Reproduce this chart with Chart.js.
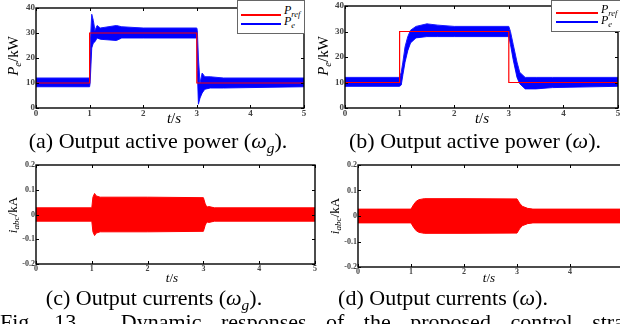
<!DOCTYPE html>
<html lang="en">
<head>
<meta charset="UTF-8" />
<title>Fig. 13 dynamic responses</title>
<script src="https://cdn.jsdelivr.net/npm/chart.js"></script>
<style>
  html, body { margin: 0; padding: 0; background: #fff; }
  body { width: 620px; height: 324px; overflow: hidden; position: relative;
         font-family: "Liberation Serif", "DejaVu Serif", serif; color: #000; }
  canvas { position: absolute; }
  .t { position: absolute; white-space: nowrap; line-height: 1; }
  .rot { transform: translate(-50%, -50%) rotate(-90deg); }
  .ctr { transform: translate(-50%, -50%); }
  .cap { position: absolute; font-size: 22px; line-height: 1; white-space: nowrap; transform: translateX(-50%); }
  .legend { position: absolute; background: #fff; border: 1px solid #666; }
  .legend .ln { position: absolute; height: 2px; }
  .legend .lt { position: absolute; font-size: 12px; font-style: italic; line-height: 1; }
  sub { font-size: 70%; vertical-align: -0.3em; line-height: 0; }
</style>
</head>
<body>
  <canvas id="chartA" width="310" height="128" style="left:0;top:0"></canvas>
  <canvas id="chartB" width="310" height="128" style="left:310px;top:0"></canvas>
  <canvas id="chartC" width="320" height="136" style="left:0;top:150px"></canvas>
  <canvas id="chartD" width="330" height="136" style="left:310px;top:150px"></canvas>

  <!-- axis titles -->
  <div class="t rot" style="left:13px;top:56px;font-size:15px"><i>P<sub>e</sub></i>/kW</div>
  <div class="t ctr" style="left:174px;top:118px;font-size:15px"><i>t</i>/<i>s</i></div>
  <div class="t rot" style="left:323px;top:56px;font-size:15px"><i>P<sub>e</sub></i>/kW</div>
  <div class="t ctr" style="left:482px;top:118px;font-size:15px"><i>t</i>/<i>s</i></div>
  <div class="t rot" style="left:12px;top:215px;font-size:13px"><i>i<sub>abc</sub></i>/kA</div>
  <div class="t ctr" style="left:172px;top:277px;font-size:13px"><i>t</i>/<i>s</i></div>
  <div class="t rot" style="left:334px;top:216px;font-size:13px"><i>i<sub>abc</sub></i>/kA</div>
  <div class="t ctr" style="left:489px;top:277px;font-size:13px"><i>t</i>/<i>s</i></div>

  <!-- legends -->
  <div class="legend" style="left:237px;top:0;width:66px;height:32px">
    <div class="ln" style="left:3px;top:13px;width:40px;background:#f00"></div>
    <div class="ln" style="left:3px;top:22px;width:40px;background:#00f"></div>
    <div class="lt" style="left:46px;top:3px">P<sub>ref</sub></div>
    <div class="lt" style="left:46px;top:14px">P<sub>e</sub></div>
  </div>
  <div class="legend" style="left:551px;top:0;width:72px;height:30px">
    <div class="ln" style="left:4px;top:11px;width:42px;background:#f00"></div>
    <div class="ln" style="left:4px;top:20px;width:42px;background:#00f"></div>
    <div class="lt" style="left:49px;top:2px">P<sub>ref</sub></div>
    <div class="lt" style="left:49px;top:13px">P<sub>e</sub></div>
  </div>

  <!-- captions -->
  <div class="cap" style="left:158px;top:130px">(a) Output active power (<i>ω<sub>g</sub></i>).</div>
  <div class="cap" style="left:475px;top:130px">(b) Output active power (<i>ω</i>).</div>
  <div class="cap" style="left:154px;top:287px">(c) Output currents (<i>ω<sub>g</sub></i>).</div>
  <div class="cap" style="left:443px;top:287px">(d) Output currents (<i>ω</i>).</div>
  <div class="cap" style="left:0;top:311px;transform:none;word-spacing:14px">Fig. 13.&nbsp; Dynamic responses of the proposed control strategy.</div>

<script>
// ---------------- data ----------------
// reference power step (kW)
const refT = [0, 1, 1, 3, 3, 5];
const refP = [10, 10, 30, 30, 10, 10];

// (a) P_e envelope of the blue band, omega_g control
const aT   = [0, 1.0, 1.01, 1.04, 1.07, 1.10, 1.14, 1.2, 1.5, 1.6, 2.0, 2.5, 3.0, 3.01, 3.03, 3.06, 3.1, 3.15, 3.25, 3.5, 5];
const aUp  = [12, 12, 25, 37.5, 35, 31, 33, 32, 33, 32.5, 32, 32, 32, 31, 20, 10, 14, 12.5, 12.5, 12, 12];
const aLow = [8.5, 8.5, 10, 24, 26, 26.5, 28, 27.5, 27, 28, 28, 28, 28, 15, 1.5, 4, 6, 7.5, 8, 8, 8.5];

// (b) P_e envelope, omega control
const bT   = [0, 1.0, 1.03, 1.06, 1.1, 1.15, 1.2, 1.3, 1.5, 1.7, 2.0, 3.0, 3.03, 3.08, 3.15, 3.2, 3.3, 3.5, 3.8, 5];
const bUp  = [12, 12, 14, 18, 24, 28, 30.5, 32, 33, 32.5, 32, 32, 30, 25, 18, 14, 12, 12, 12, 12];
const bLow = [8.5, 8.5, 9, 13, 18, 22.5, 25.5, 27.5, 28, 28, 28, 28, 25, 19, 12, 9.5, 7.5, 7.5, 8, 8.5];

// (c) current envelope (kA), omega_g control
const cT   = [0, 1.0, 1.02, 1.05, 1.08, 1.15, 2.0, 3.0, 3.03, 3.06, 3.1, 3.2, 5];
const cAmp = [0.027, 0.027, 0.07, 0.085, 0.075, 0.07, 0.07, 0.068, 0.045, 0.03, 0.032, 0.027, 0.027];

// (d) current envelope (kA), omega control
const dT   = [0, 1.0, 1.05, 1.1, 1.15, 1.25, 2.0, 3.0, 3.05, 3.1, 3.2, 3.3, 5];
const dAmp = [0.027, 0.027, 0.045, 0.058, 0.064, 0.068, 0.068, 0.067, 0.05, 0.038, 0.03, 0.027, 0.027];

const tTicks = [0, 1, 2, 3, 4, 5];
const pTicks = [0, 10, 20, 30, 40];
const iTicks = [-0.2, -0.1, 0, 0.1, 0.2];

// ---------------- helpers ----------------
const pts = (xs, ys) => xs.map((x, i) => ({ x: x, y: ys[i] }));

// MATLAB-like box with inward ticks and labels
const framePlugin = {
  id: 'frame',
  afterDraw(chart, args, opts) {
    const { ctx, chartArea: a, scales } = chart;
    const xs = scales.x, ys = scales.y;
    ctx.save();
    ctx.strokeStyle = '#000';
    ctx.lineWidth = 1.4;
    ctx.strokeRect(a.left, a.top, a.right - a.left, a.bottom - a.top);
    ctx.lineWidth = 1;
    ctx.fillStyle = '#444';
    ctx.font = opts.font;
    ctx.beginPath();
    opts.xTicks.forEach(v => {
      const px = Math.round(xs.getPixelForValue(v)) + 0.5;
      ctx.moveTo(px, a.bottom); ctx.lineTo(px, a.bottom - 3);
      ctx.moveTo(px, a.top); ctx.lineTo(px, a.top + 3);
    });
    opts.yTicks.forEach(v => {
      const py = Math.round(ys.getPixelForValue(v)) + 0.5;
      ctx.moveTo(a.left, py); ctx.lineTo(a.left + 3, py);
      ctx.moveTo(a.right, py); ctx.lineTo(a.right - 3, py);
    });
    ctx.stroke();
    ctx.textAlign = 'center';
    ctx.textBaseline = 'top';
    opts.xTicks.forEach(v => {
      const px = xs.getPixelForValue(v);
      if (px <= chart.width) ctx.fillText(String(v), px, a.bottom + 1);
    });
    ctx.textAlign = 'right';
    ctx.textBaseline = 'middle';
    opts.yTicks.forEach(v => {
      ctx.fillText(String(v), a.left - 1, ys.getPixelForValue(v));
    });
    ctx.restore();
  }
};

function makeChart(id, datasets, pad, yMin, yMax, yTicks, font) {
  return new Chart(document.getElementById(id), {
    type: 'line',
    data: { datasets: datasets },
    options: {
      responsive: false,
      animation: false,
      layout: { padding: pad },
      elements: { point: { radius: 0 }, line: { tension: 0 } },
      plugins: {
        legend: { display: false },
        tooltip: { enabled: false },
        frame: { xTicks: tTicks, yTicks: yTicks, font: font }
      },
      scales: {
        x: { type: 'linear', min: 0, max: 5, display: false },
        y: { type: 'linear', min: yMin, max: yMax, display: false }
      }
    },
    plugins: [framePlugin]
  });
}

function powerSets(t, up, low) {
  return [
    { data: pts(refT, refP), borderColor: '#ff0000', borderWidth: 1.2, fill: false },
    { data: pts(t, up), borderColor: '#1a1aff', borderWidth: 1, backgroundColor: '#0000ff', fill: '+1' },
    { data: pts(t, low), borderColor: '#1a1aff', borderWidth: 1, fill: false }
  ];
}

function currentSets(t, amp) {
  return [
    { data: pts(t, amp), borderColor: '#ff0000', borderWidth: 1, backgroundColor: '#ff0000', fill: '+1' },
    { data: pts(t, amp.map(v => -v)), borderColor: '#ff0000', borderWidth: 1, fill: false }
  ];
}

makeChart('chartA', powerSets(aT, aUp, aLow), { left: 36, top: 8, right: 6, bottom: 20 }, 0, 40, pTicks, 'bold 9px "Liberation Serif"');
makeChart('chartB', powerSets(bT, bUp, bLow), { left: 35, top: 6, right: 2, bottom: 20 }, 0, 40, pTicks, 'bold 9px "Liberation Serif"');
makeChart('chartC', currentSets(cT, cAmp), { left: 36, top: 15, right: 5, bottom: 22 }, -0.2, 0.2, iTicks, 'bold 8px "Liberation Serif"');
makeChart('chartD', currentSets(dT, dAmp), { left: 48, top: 15, right: 17, bottom: 19 }, -0.2, 0.2, iTicks, 'bold 8px "Liberation Serif"');
</script>
</body>
</html>
